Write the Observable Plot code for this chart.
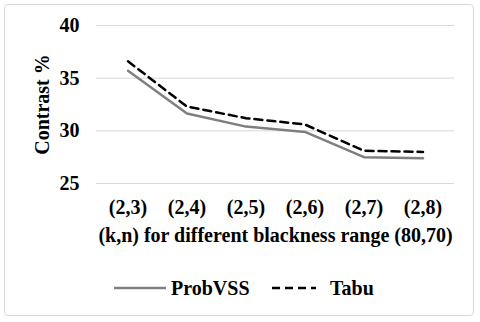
<!DOCTYPE html>
<html><head><meta charset="utf-8">
<script src="https://cdn.jsdelivr.net/npm/d3@7"></script>
<script src="https://cdn.jsdelivr.net/npm/@observablehq/plot@0.6"></script>
<style>
html,body{margin:0;padding:0;background:#fff;}
#frame{position:absolute;left:4px;top:4px;width:470px;height:312px;border:1px solid #d9d9d9;border-radius:4px;box-sizing:border-box;}
#chart{position:absolute;left:0;top:0;}
#chart svg text, #legend text{font-family:"Liberation Serif","Times New Roman",serif !important;font-weight:bold !important;font-size:20px !important;fill:#000;font-variant:normal !important;}
#legend{position:absolute;left:0;top:276px;width:480px;height:24px;}
</style></head>
<body>
<div id="frame"></div>
<div id="chart"></div>
<div id="legend"></div>
<script>
const categories = ["(2,3)","(2,4)","(2,5)","(2,6)","(2,7)","(2,8)"];
const probVSS = [35.7, 31.65, 30.4, 29.9, 27.5, 27.4];
const tabu = [36.6, 32.3, 31.2, 30.6, 28.1, 28.0];
const yTicks = [25, 30, 35, 40];
const seriesNames = ["ProbVSS", "Tabu"];

const data = [];
categories.forEach((c, i) => {
  data.push({cat: c, value: probVSS[i], series: seriesNames[0]});
  data.push({cat: c, value: tabu[i], series: seriesNames[1]});
});

const chart = Plot.plot({
  width: 480,
  height: 262,
  marginTop: 25,
  marginBottom: 79,
  marginLeft: 96,
  marginRight: 26,
  style: {background: "transparent", color: "#000"},
  x: {domain: categories, type: "band", padding: 0},
  y: {domain: [25, 40]},
  marks: [
    Plot.gridY(yTicks, {stroke: "#d9d9d9", strokeOpacity: 1, strokeWidth: 1}),
    Plot.axisY(yTicks, {tickSize: 0, tickPadding: 17, label: "Contrast %", labelAnchor: "center", labelArrow: "none", labelOffset: 62}),
    Plot.axisX({tickSize: 0, tickPadding: 16, label: "(k,n) for different blackness range (80,70)", labelAnchor: "center", labelArrow: "none", labelOffset: 58}),
    Plot.line(data.filter(d => d.series === "ProbVSS"), {x: "cat", y: "value", stroke: "#7f7f7f", strokeWidth: 2.5}),
    Plot.line(data.filter(d => d.series === "Tabu"), {x: "cat", y: "value", stroke: "#000", strokeWidth: 2.5, strokeDasharray: "8,5"})
  ]
});
document.getElementById("chart").appendChild(chart);

const lg = document.getElementById("legend");
lg.innerHTML = `
<svg width="480" height="24" style="position:absolute;left:0;top:0;overflow:visible">
  <line x1="114" x2="166" y1="12" y2="12" stroke="#7f7f7f" stroke-width="2.5"/>
  <text x="171" y="19">${seriesNames[0]}</text>
  <line x1="272" x2="316" y1="12" y2="12" stroke="#000" stroke-width="2.5" stroke-dasharray="8,5"/>
  <text x="330" y="19">${seriesNames[1]}</text>
</svg>`;
</script>
</body></html>
